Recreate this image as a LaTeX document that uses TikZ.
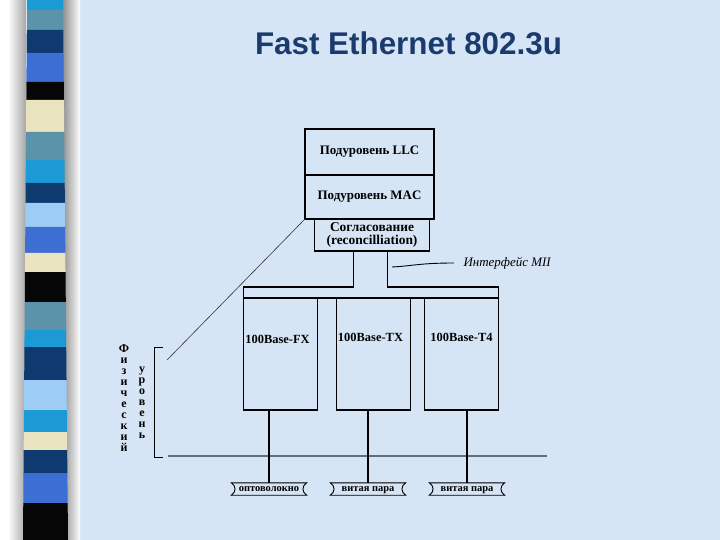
\documentclass[tikz,border=0pt]{standalone}
\usepackage{fontspec}
\setmainfont{Liberation Serif}
\newfontfamily\titlefont{Liberation Sans}
\usetikzlibrary{positioning, calc}
\definecolor{slideBlue}{HTML}{D6E5F5}
\definecolor{titleNavy}{HTML}{1B3B6F}
\definecolor{stCyan}{HTML}{1B9AD6}
\definecolor{stTeal}{HTML}{5B93AB}
\definecolor{stNavy}{HTML}{0E3A70}
\definecolor{stRoyal}{HTML}{3C6ED3}
\definecolor{stBlack}{HTML}{060606}
\definecolor{stCream}{HTML}{E9E4BF}
\definecolor{stLight}{HTML}{9DCCF5}
\definecolor{groundGray}{HTML}{5E6F80}

\begin{document}
\begin{tikzpicture}[
    x=1bp, y=-1bp,
    node distance=0bp,
    layer/.style={rectangle, draw, line width=1.2bp, outer sep=0pt, minimum width=129bp, align=center, font=\fontsize{13}{14}\selectfont\bfseries},
    phybox/.style={rectangle, draw, line width=1.2bp, outer sep=0pt, minimum width=74bp, minimum height=112bp},
    phylabel/.style={font=\fontsize{12.5}{14}\selectfont\bfseries, inner sep=0pt},
    cable/.style={minimum width=75bp, minimum height=12bp, inner sep=0pt, text height=5.2bp, text depth=0bp, font=\fontsize{10.5}{11}\selectfont\bfseries},
    wire/.style={line width=1.2bp},
    vletters/.style={align=center, inner sep=0pt, font=\fontsize{12}{11}\selectfont\bfseries},
]
    % slide background and side stripe
    \useasboundingbox (0,0) rectangle (720,540);
    \fill[white] (0,0) rectangle (720,540);
    \fill[slideBlue] (80,0) rectangle (720,540);
    \shade[left color=white, right color=black!35] (8,0) rectangle (26,540);
    \shade[left color=black!45, right color=white] (62,0) rectangle (80,540);
    \foreach \ya/\yb/\col in {0/10/stCyan, 10/30/stTeal, 30/53/stNavy, 53/82/stRoyal, 82/100/stBlack,
        100/132/stCream, 132/160/stTeal, 160/183/stCyan, 183/203/stNavy, 203/227/stLight,
        227/253/stRoyal, 253/272/stCream, 272/302/stBlack, 302/330/stTeal, 330/347/stCyan,
        347/380/stNavy, 380/410/stLight, 410/432/stCyan, 432/450/stCream, 450/473/stNavy,
        473/503/stRoyal, 503/540/stBlack}
        \fill[\col] ({27-\ya/135},\ya) -- ({63+\ya/108},\ya) -- ({63+\yb/108},\yb) -- ({27-\yb/135},\yb) -- cycle;

    % title
    \node[font=\titlefont\bfseries\fontsize{31.5}{36}\selectfont, text=titleNavy] (title) at (408.5,43) {Fast Ethernet 802.3u};

    % upper sublayers
    \node[layer, minimum height=46bp] (llc) at (369.5,152) {Подуровень LLC};
    \node[layer, minimum height=44bp, below=of llc] (mac) {Подуровень MAC};
    \node[layer, minimum width=115bp, minimum height=32bp, below=of mac, xshift=2.5bp, font=\fontsize{13.5}{13}\selectfont\bfseries] (recon) {Согласование\\(reconcilliation)};

    % physical sublayer boxes
    \node[phybox] (fx) at (280.5,354) {};
    \node[phybox, right=19bp of fx] (tx) {};
    \node[phybox, right=14bp of tx] (t4) {};
    \node[phylabel, below=37bp of fx.north, xshift=-3bp] (fxl) {100Base-FX};
    \node[phylabel, below=35bp of tx.north, xshift=-3bp] (txl) {100Base-TX};
    \node[phylabel, below=35bp of t4.north] (t4l) {100Base-T4};

    % MII band
    \draw[wire] ([xshift=-18.5bp]recon.south) -- ++(0,36) -| (fx.north west);
    \draw[wire] ([xshift=15.5bp]recon.south) -- ++(0,36) -| (t4.north east);
    \draw[wire] (fx.north west) -- (t4.north east);

    % interface label
    \node[font=\fontsize{13}{14}\selectfont\itshape, anchor=west] (mii) at (460,263) {Интерфейс МII};
    \coordinate (miiend) at (392,267);
    \draw[line width=0.9bp] (miiend) .. controls (412,266) and (420,263) .. ([xshift=-6bp]mii.west);

    % physical layer bracket and labels
    \coordinate (phy) at (167,360);
    \draw[line width=0.6bp, black!80] (mac.south west) -- (phy);
    \draw[line width=0.9bp] (163,347) -- (154,347) -- (154,457) -- (163,457);
    \node[vletters] (fiz) at (124,398) {Ф\\и\\з\\и\\ч\\е\\с\\к\\и\\й};
    \node[vletters] (urov) at (142,403) {у\\р\\о\\в\\е\\н\\ь};

    % medium line
    \coordinate (gl) at (168,456);
    \coordinate (gr) at (547,456);
    \draw[groundGray, line width=2bp] (gl) -- (gr);

    % cables
    \node[cable] (b1) at (269,489) {оптоволокно};
    \node[cable] (b2) at (368,489) {витая пара};
    \node[cable] (b3) at (467,489) {витая пара};
    \foreach \b in {b1,b2,b3}
        \draw[line width=0.9bp] (\b.north west) .. controls ($(\b.north west)+(5,3)$) and ($(\b.south west)+(5,-3)$) .. (\b.south west) -- (\b.south east)
            .. controls ($(\b.south east)+(-5,-3)$) and ($(\b.north east)+(-5,3)$) .. (\b.north east) -- cycle;
    \draw[wire] (b1.north) -- (b1.north |- fx.south);
    \draw[wire] (b2.north) -- (b2.north |- tx.south);
    \draw[wire] (b3.north) -- (b3.north |- t4.south);
\end{tikzpicture}
\end{document}
